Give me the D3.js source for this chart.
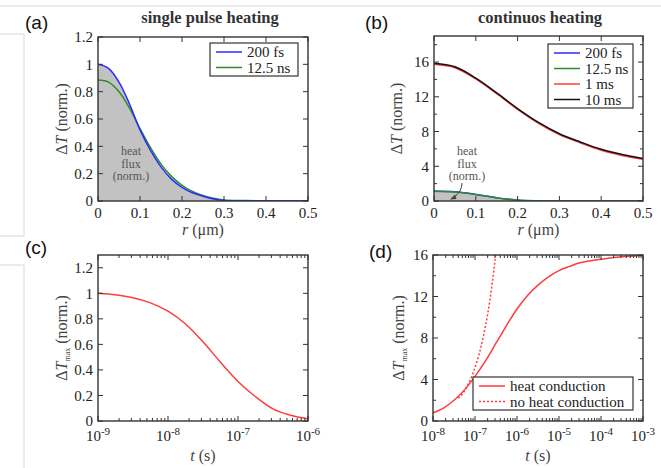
<!DOCTYPE html>
<html>
<head>
<meta charset="utf-8">
<script src="https://cdn.jsdelivr.net/npm/d3@7"></script>
<style>
  body { margin: 0; background: #fff; }
  text { font-family: "Liberation Serif", "DejaVu Serif", serif; fill: #222; }
</style>
</head>
<body>
<div class="container"></div>
<script>
// panel (a) single pulse heating
const rA = [0, 0.025, 0.05, 0.075, 0.1, 0.125, 0.15, 0.175, 0.2, 0.225, 0.25, 0.275, 0.3, 0.35, 0.4, 0.45, 0.5]
const a200fs = [1.0, 0.97, 0.87, 0.71, 0.52, 0.37, 0.25, 0.16, 0.1, 0.06, 0.035, 0.015, 0.003, 0, 0, 0, 0]
const a125ns = [0.885, 0.87, 0.8, 0.68, 0.53, 0.39, 0.27, 0.18, 0.115, 0.07, 0.04, 0.02, 0.008, 0.003, 0.001, 0, 0]
const aTicksY = [0, 0.2, 0.4, 0.6, 0.8, 1, 1.2]

// panel (b) continuous heating
const rB = [0, 0.05, 0.1, 0.15, 0.2, 0.25, 0.3, 0.35, 0.4, 0.45, 0.5]
const b200fs = [1.15, 1.06, 0.76, 0.36, 0.1, 0.02, 0, 0, 0, 0, 0]
const b125ns = [1.12, 1.03, 0.75, 0.38, 0.12, 0.03, 0.005, 0, 0, 0, 0]
const b1ms = [15.75, 15.35, 14.05, 12.35, 10.55, 8.95, 7.65, 6.7, 5.85, 5.25, 4.8]
const b10ms = [15.85, 15.45, 14.15, 12.45, 10.65, 9.05, 7.75, 6.8, 5.95, 5.35, 4.9]
const bTicksY = [0, 4, 8, 12, 16]
const bMinorY = [2, 6, 10, 14, 18]

const rTicks = [0, 0.1, 0.2, 0.3, 0.4, 0.5]

// panel (c)
const tC = [1e-9, 1.78e-9, 3.16e-9, 5.62e-9, 1e-8, 1.78e-8, 3.16e-8, 5.62e-8, 1e-7, 1.78e-7, 3.16e-7, 5.62e-7, 1e-6]
const cTmax = [1.0, 0.988, 0.965, 0.925, 0.86, 0.76, 0.62, 0.46, 0.31, 0.19, 0.095, 0.045, 0.018]
const cTicksX = [-9, -8, -7, -6]

// panel (d)
const tD = [1e-8, 1.78e-8, 3.16e-8, 5.62e-8, 1e-7, 1.78e-7, 3.16e-7, 5.62e-7, 1e-6, 1.78e-6, 3.16e-6, 5.62e-6,
  1e-5, 1.78e-5, 3.16e-5, 5.62e-5, 1e-4, 3.16e-4, 1e-3]
const dCond = [0.8, 1.25, 2.0, 3.0, 4.3, 5.8, 7.5, 9.2, 10.8, 12.1, 13.1, 13.9,
  14.5, 14.9, 15.25, 15.45, 15.6, 15.82, 15.95]
const tDot = [4e-8, 5e-8, 7e-8, 1e-7, 1.3e-7, 1.6e-7, 2e-7, 2.5e-7, 3.1e-7]
const dNoCond = [2.2, 2.6, 3.6, 5.15, 6.7, 8.25, 10.3, 12.9, 16.0]
const dTicksX = [-8, -7, -6, -5, -4, -3]

const BLUE = '#2b2bff', GREEN = '#2e8a2e', RED = '#ff3b3b', AX = '#333'

const svg = d3.select('.container').append('svg')
  .attr('width', 661)
  .attr('height', 468)

// screenshot frame lines
const frame = svg.append('g').attr('stroke', '#d8d8d8').attr('fill', 'none')
frame.append('line').attr('x1', 0).attr('x2', 661).attr('y1', 6).attr('y2', 6)
frame.append('path').attr('d', 'M0,34H24V236H0')
frame.append('path').attr('d', 'M0,265H24V468')

function panel(o) {
  const g = svg.append('g')
  const x = (o.log ? d3.scaleLog() : d3.scaleLinear()).domain(o.xd).range([o.x0, o.x1])
  const y = d3.scaleLinear().domain(o.yd).range([o.y1, o.y0])
  const id = 'clip' + o.name
  svg.append('clipPath').attr('id', id).append('rect')
    .attr('x', o.x0).attr('y', o.y0).attr('width', o.x1 - o.x0).attr('height', o.y1 - o.y0)
  const plot = g.append('g').attr('clip-path', `url(#${id})`)
  return { g, x, y, plot, o }
}

function drawLine(p, xs, ys, color, dash) {
  const line = d3.line().x(d => p.x(d[0])).y(d => p.y(d[1])).curve(d3.curveCatmullRom.alpha(0.5))
  p.plot.append('path')
    .datum(xs.map((v, i) => [v, ys[i]]))
    .attr('d', line)
    .attr('fill', 'none')
    .attr('stroke', color)
    .attr('stroke-width', 1.5)
    .attr('stroke-dasharray', dash || null)
}

function drawFill(p, xs, ys) {
  const area = d3.area().x(d => p.x(d[0])).y0(p.y(0)).y1(d => p.y(d[1])).curve(d3.curveMonotoneX)
  p.plot.append('path')
    .datum(xs.map((v, i) => [v, ys[i]]))
    .attr('d', area)
    .attr('fill', '#c2c2c2')
}

function frameAxes(p, yTicks, yMinor, xTicks, xMinor) {
  const { g, x, y, o } = p
  const fmt = d => String(+d.toFixed(2))
  yTicks.forEach(v => {
    g.append('line').attr('x1', o.x0).attr('x2', o.x0 + 5).attr('y1', y(v)).attr('y2', y(v)).attr('stroke', AX)
    g.append('line').attr('x1', o.x1).attr('x2', o.x1 - 5).attr('y1', y(v)).attr('y2', y(v)).attr('stroke', AX)
    g.append('text').attr('x', o.x0 - 5).attr('y', y(v)).attr('dy', '0.35em')
      .attr('text-anchor', 'end').attr('font-size', 15).text(fmt(v))
  })
  ;(yMinor || []).forEach(v => {
    g.append('line').attr('x1', o.x0).attr('x2', o.x0 + 3).attr('y1', y(v)).attr('y2', y(v)).attr('stroke', AX)
    g.append('line').attr('x1', o.x1).attr('x2', o.x1 - 3).attr('y1', y(v)).attr('y2', y(v)).attr('stroke', AX)
  })
  xTicks.forEach(v => {
    const xv = o.log ? Math.pow(10, v) : v
    g.append('line').attr('x1', x(xv)).attr('x2', x(xv)).attr('y1', o.y1).attr('y2', o.y1 - 5).attr('stroke', AX)
    g.append('line').attr('x1', x(xv)).attr('x2', x(xv)).attr('y1', o.y0).attr('y2', o.y0 + 5).attr('stroke', AX)
    const t = g.append('text').attr('x', x(xv)).attr('y', o.y1 + (o.log ? 20 : 17))
      .attr('text-anchor', 'middle').attr('font-size', 15)
    if (o.log) {
      t.append('tspan').text('10')
      t.append('tspan').attr('dy', -6).attr('font-size', 11).text('-' + Math.abs(v))
    } else {
      t.text(fmt(v))
    }
  })
  ;(xMinor || []).forEach(v => {
    g.append('line').attr('x1', x(v)).attr('x2', x(v)).attr('y1', o.y1).attr('y2', o.y1 - 3).attr('stroke', AX)
    g.append('line').attr('x1', x(v)).attr('x2', x(v)).attr('y1', o.y0).attr('y2', o.y0 + 3).attr('stroke', AX)
  })
  g.append('rect').attr('x', o.x0).attr('y', o.y0).attr('width', o.x1 - o.x0).attr('height', o.y1 - o.y0)
    .attr('fill', 'none').attr('stroke', AX).attr('stroke-width', 1.4)
}

function logMinor(lo, hi) {
  const out = []
  for (let e = lo; e < hi; e++) for (let k = 2; k <= 9; k++) out.push(k * Math.pow(10, e))
  return out
}

function yLabel(p, cx, sub) {
  const cy = (p.o.y0 + p.o.y1) / 2
  const t = svg.append('text').attr('transform', `translate(${cx},${cy}) rotate(-90)`)
    .attr('text-anchor', 'middle').attr('font-size', 16).style('fill', '#444')
  t.append('tspan').text('Δ')
  t.append('tspan').attr('font-style', 'italic').text('T')
  if (sub) {
    t.append('tspan').attr('font-size', 8).attr('dy', 3).text('max')
    t.append('tspan').attr('dy', -3).text(' (norm.)')
  } else {
    t.append('tspan').text(' (norm.)')
  }
}

function xLabel(p, varName, unit, ty) {
  const t = svg.append('text').attr('x', (p.o.x0 + p.o.x1) / 2).attr('y', ty)
    .attr('text-anchor', 'middle').attr('font-size', 16).style('fill', '#444')
  t.append('tspan').attr('font-style', 'italic').text(varName)
  t.append('tspan').text(' ' + unit)
}

function legend(x0, y0, w, rows) {
  const h = rows.length * 15.5 + 2
  svg.append('rect').attr('x', x0).attr('y', y0).attr('width', w).attr('height', h)
    .attr('fill', '#fff').attr('stroke', AX).attr('stroke-width', 1.2)
  rows.forEach((r, i) => {
    const yy = y0 + 9 + i * 15.5
    svg.append('line').attr('x1', x0 + 6).attr('x2', x0 + 32).attr('y1', yy).attr('y2', yy)
      .attr('stroke', r.c).attr('stroke-width', 1.5).attr('stroke-dasharray', r.dash || null)
    svg.append('text').attr('x', x0 + 37).attr('y', yy).attr('dy', '0.35em').attr('font-size', 15).text(r.t)
  })
}

function heatNote(cx, cy) {
  ;['heat', 'flux', '(norm.)'].forEach((s, i) => {
    svg.append('text').attr('x', cx).attr('y', cy + i * 12.5).attr('text-anchor', 'middle')
      .attr('font-size', 12).style('fill', '#555').text(s)
  })
}

// (a)
const pa = panel({ name: 'a', x0: 98, x1: 308, y0: 37, y1: 201, xd: [0, 0.5], yd: [0, 1.2] })
drawFill(pa, rA, a200fs)
drawLine(pa, rA, a125ns, GREEN)
drawLine(pa, rA, a200fs, BLUE)
frameAxes(pa, aTicksY, null, rTicks, null)
heatNote(131, 155)
yLabel(pa, 67)
xLabel(pa, 'r', '(μm)', 235)
legend(210, 43, 88, [{ t: '200 fs', c: BLUE }, { t: '12.5 ns', c: GREEN }])

// (b)
const pb = panel({ name: 'b', x0: 434, x1: 643, y0: 36, y1: 201, xd: [0, 0.5], yd: [0, 19] })
drawFill(pb, rB, b200fs)
drawLine(pb, rB, b200fs, BLUE)
drawLine(pb, rB, b125ns, GREEN)
drawLine(pb, rB, b1ms, RED)
drawLine(pb, rB, b10ms, '#111')
frameAxes(pb, bTicksY, bMinorY, rTicks, null)
heatNote(467, 155)
svg.append('path').attr('d', 'M462,183 Q462,192 453,198').attr('fill', 'none').attr('stroke', '#444')
svg.append('path').attr('d', 'M450,199.5 L455,194.5 L456.5,199 Z').attr('fill', '#444')
yLabel(pb, 402)
xLabel(pb, 'r', '(μm)', 235)
legend(548, 44, 85, [{ t: '200 fs', c: BLUE }, { t: '12.5 ns', c: GREEN }, { t: '1 ms', c: RED }, { t: '10 ms', c: '#111' }])

// (c)
const pc = panel({ name: 'c', log: true, x0: 98, x1: 308, y0: 255, y1: 421, xd: [1e-9, 1e-6], yd: [0, 1.3] })
drawLine(pc, tC, cTmax, RED)
frameAxes(pc, aTicksY, null, cTicksX, logMinor(-9, -6))
yLabel(pc, 67, true)
xLabel(pc, 't', '(s)', 461)

// (d)
const pd = panel({ name: 'd', log: true, x0: 433, x1: 643, y0: 255, y1: 421, xd: [1e-8, 1e-3], yd: [0, 16] })
drawLine(pd, tDot, dNoCond, RED, '2,2')
drawLine(pd, tD, dCond, RED)
frameAxes(pd, bTicksY, [2, 6, 10, 14], dTicksX, logMinor(-8, -3))
yLabel(pd, 404, true)
xLabel(pd, 't', '(s)', 461)
legend(473, 377, 160, [{ t: 'heat conduction', c: RED }, { t: 'no heat conduction', c: RED, dash: '2,2' }])

// titles and panel letters
svg.append('text').attr('x', 210).attr('y', 23).attr('text-anchor', 'middle')
  .attr('font-size', 16.5).attr('font-weight', 'bold').style('fill', '#333').text('single pulse heating')
svg.append('text').attr('x', 540).attr('y', 23).attr('text-anchor', 'middle')
  .attr('font-size', 16.5).attr('font-weight', 'bold').style('fill', '#333').text('continuos heating')
;[['(a)', 25, 29], ['(b)', 365, 29], ['(c)', 25, 254], ['(d)', 369, 258]].forEach(d => {
  svg.append('text').attr('x', d[1]).attr('y', d[2]).attr('font-size', 19)
    .style('font-family', '"Liberation Sans", Arial, sans-serif').style('fill', '#111').text(d[0])
})
</script>
</body>
</html>
